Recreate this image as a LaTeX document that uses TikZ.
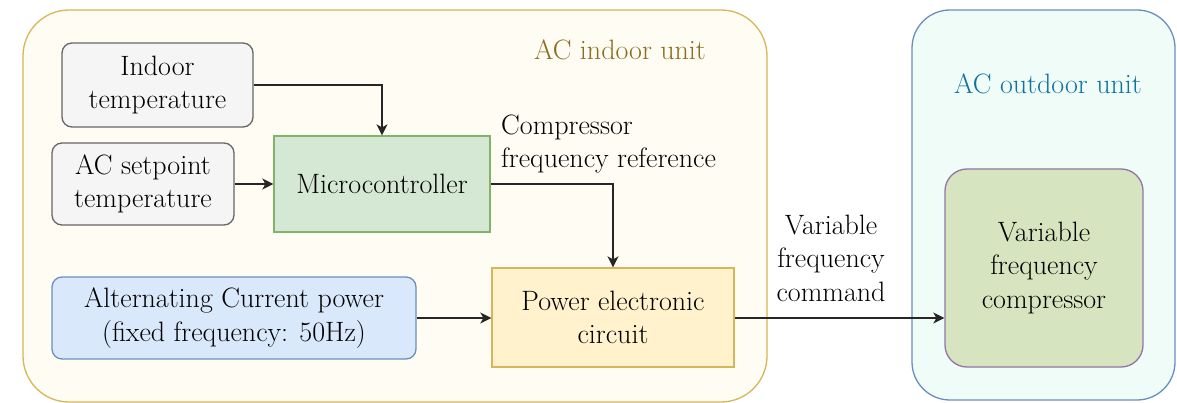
\documentclass[tikz,border=0pt]{standalone}
\usetikzlibrary{arrows.meta}
\definecolor{inFill}{HTML}{FFFCF3}
\definecolor{inDraw}{HTML}{D6B656}
\definecolor{inText}{HTML}{8C6D1F}
\definecolor{outFill}{HTML}{EFFCF7}
\definecolor{outDraw}{HTML}{6C8EBF}
\definecolor{outText}{HTML}{10739E}
\definecolor{grayFill}{HTML}{F5F5F5}
\definecolor{grayDraw}{HTML}{666666}
\definecolor{greenFill}{HTML}{D5E8D4}
\definecolor{greenDraw}{HTML}{82B366}
\definecolor{blueFill}{HTML}{DAE8FC}
\definecolor{blueDraw}{HTML}{6C8EBF}
\definecolor{yelFill}{HTML}{FFF2CC}
\definecolor{yelDraw}{HTML}{D6B656}
\definecolor{compFill}{HTML}{D6E5BF}
\definecolor{compDraw}{HTML}{9673A6}
\tikzset{
  txt/.style={font=\rmfamily\fontsize{28}{33.6}\selectfont, align=center, inner sep=0pt},
  box/.style={txt, draw, line width=1.3pt},
  rbox/.style={box, rounded corners=10pt},
  conn/.style={line width=1.5pt, draw=black!85, -{Stealth[length=11pt,width=11pt,inset=3pt]}},
}
\begin{document}
\begin{tikzpicture}[x=1pt,y=-1pt]
\useasboundingbox (0,0) rectangle (1177,403);
% containers
\draw[fill=inFill, draw=inDraw, line width=1.3pt, rounded corners=46pt] (23,10) rectangle (767,402);
\draw[fill=outFill, draw=outDraw, line width=1.3pt, rounded corners=38pt] (912,10) rectangle (1175,400);
\node[txt, text=inText] (inlabel) at (620,50) {AC indoor unit};
\node[txt, text=outText] (outlabel) at (1048,84) {AC outdoor unit};
% boxes
\node[rbox, fill=grayFill, draw=grayDraw, minimum width=191pt, minimum height=84pt] (intemp) at (157.5,85) {Indoor\\temperature};
\node[rbox, fill=grayFill, draw=grayDraw, minimum width=182pt, minimum height=82pt] (setp) at (143,184) {AC setpoint\\temperature};
\node[box, fill=greenFill, draw=greenDraw, minimum width=216pt, minimum height=96pt] (micro) at (382,184) {Microcontroller};
\node[rbox, fill=blueFill, draw=blueDraw, minimum width=364pt, minimum height=82pt] (acpow) at (234,318) {Alternating Current power\\(fixed frequency: 50Hz)};
\node[box, fill=yelFill, draw=yelDraw, minimum width=242pt, minimum height=99pt] (pec) at (613,317.5) {Power electronic\\circuit};
\node[box, rounded corners=22pt, fill=compFill, draw=compDraw, minimum width=198pt, minimum height=198pt] (comp) at (1044,268) {Variable\\frequency\\compressor};
% labels
\node[txt, anchor=west, align=left] (reflabel) at (501,144) {Compressor\\frequency reference};
\node[txt] (cmdlabel) at (831,258) {Variable\\frequency\\command};
% connectors
\draw[conn] (intemp.east) -| (micro.north);
\draw[conn] (setp.east) -- (micro.west);
\draw[conn] (micro.east) -| (pec.north);
\draw[conn] (acpow.east) -- (acpow.east -| pec.west);
\draw[conn] (pec.east |- acpow.east) -- (pec.east |- acpow.east -| comp.west);
\end{tikzpicture}
\end{document}
